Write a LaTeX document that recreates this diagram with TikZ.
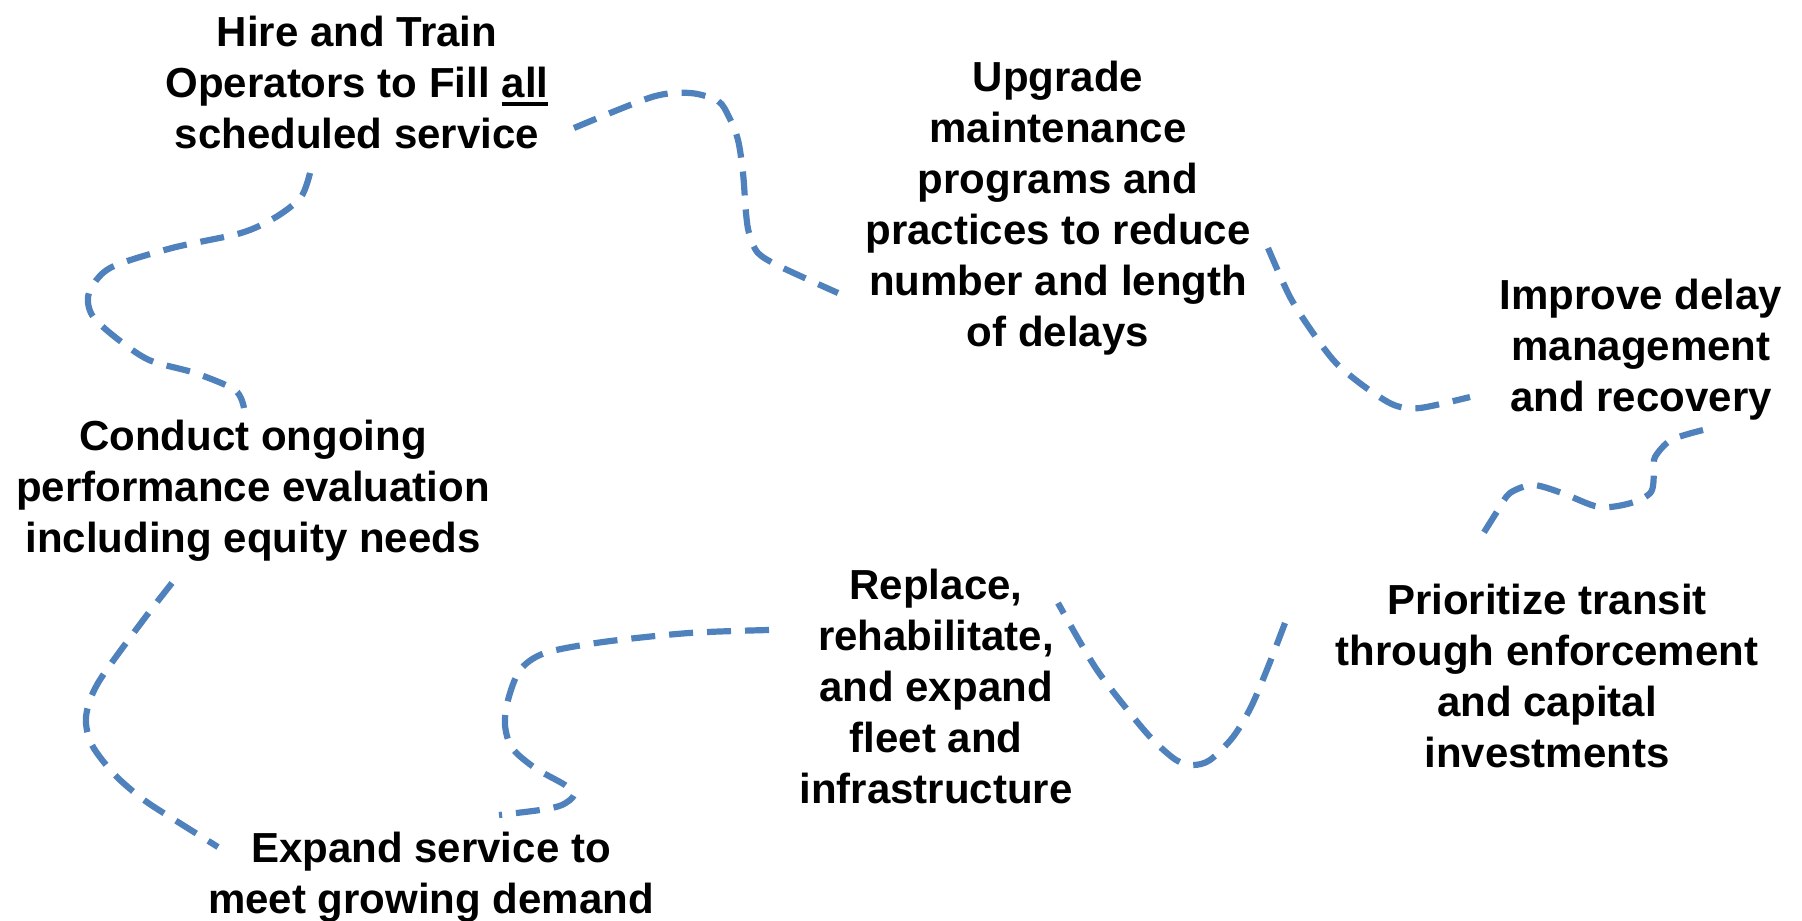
\documentclass[tikz,border=0pt]{standalone}
\usepackage{fontspec}
\setmainfont{Liberation Sans}
\usepackage{xcolor}
\definecolor{curvecolor1}{HTML}{4F81BD}
\newlength{\ulwidth}
\newcommand{\thickul}[1]{\settowidth{\ulwidth}{#1}\rlap{\rule[-4.3pt]{\ulwidth}{2pt}}#1}

\begin{document}
\begin{tikzpicture}[x = 0.5pt, y = -0.5pt,
        goal/.style = {align = center, inner sep = 0pt, font = \fontsize{21}{25.5}\selectfont\bfseries},
        wavylink/.style = {curvecolor1, line width = 3.1pt, dash pattern = on 12pt off 7pt}]
        \useasboundingbox (0, 0) rectangle (1802, 920);
        % Nodes
        \node [goal] (hire) at (357, 82) {Hire and Train\\Operators to Fill \thickul{all}\\scheduled service};
        \node [goal] (upgrade) at (1058, 208) {Upgrade\\maintenance\\programs and\\practices to reduce\\number and length\\of delays};
        \node [goal] (improve) at (1641, 350) {Improve delay\\management\\and recovery};
        \node [goal] (prioritize) at (1547, 676) {Prioritize transit\\through enforcement\\and capital\\investments};
        \node [goal] (replace) at (936, 686) {Replace,\\rehabilitate,\\and expand\\fleet and\\infrastructure};
        \node [goal] (expand) at (431, 877) {Expand service to\\meet growing demand};
        \node [goal] (conduct) at (253, 491) {Conduct ongoing\\performance evaluation\\including equity needs};
        % Free ends of the links
        \coordinate (hire a) at (574, 128);
        \coordinate (upgrade a) at (838, 293);
        \coordinate (hire b) at (310, 173);
        \coordinate (conduct b) at (244, 408);
        \coordinate (upgrade c) at (1268, 248);
        \coordinate (improve c) at (1470, 397);
        \coordinate (improve d) at (1703, 430);
        \coordinate (prioritize d) at (1478, 542);
        \coordinate (prioritize e) at (1285, 623);
        \coordinate (replace e) at (1058, 603);
        \coordinate (replace f) at (769, 630);
        \coordinate (expand f) at (499, 815);
        \coordinate (conduct g) at (172, 583);
        \coordinate (expand g) at (218, 847);
        % Draw the links
        \draw [wavylink] plot [smooth] coordinates {(hire a) (652, 97) (690, 93) (718, 101) (729, 117) (738, 140) (743, 173) (746, 213) (749, 233) (758, 253) (781, 267) (upgrade a)};
        \draw [wavylink] plot [smooth] coordinates {(hire b) (301, 197) (276, 217) (241, 233) (172, 248) (110, 268) (89, 293) (92, 315) (115, 337) (149, 360) (195, 373) (235, 390) (conduct b)};
        \draw [wavylink] plot [smooth] coordinates {(upgrade c) (1290, 297) (1313, 333) (1336, 363) (1365, 387) (1394, 405) (1420, 408) (improve c)};
        \draw [wavylink] plot [smooth] coordinates {(improve d) (1671, 440) (1655, 457) (1654, 470) (1651, 492) (1631, 503) (1599, 507) (1562, 493) (1533, 485) (1510, 493) (1498, 510) (prioritize d)};
        \draw [wavylink] plot [smooth] coordinates {(prioritize e) (1268, 667) (1251, 707) (1233, 737) (1210, 760) (1193, 765) (1176, 760) (1153, 740) (1130, 713) (1095, 667) (replace e)};
        \draw [wavylink] plot [smooth] coordinates {(replace f) (689, 633) (603, 642) (545, 653) (520, 670) (508, 700) (505, 725) (512, 748) (535, 768) (565, 785) (574, 795) (562, 805) (540, 810) (expand f)};
        \draw [wavylink] plot [smooth] coordinates {(conduct g) (141, 623) (98, 683) (86, 717) (92, 745) (115, 775) (144, 800) (178, 822) (expand g)};
\end{tikzpicture}
\end{document}
